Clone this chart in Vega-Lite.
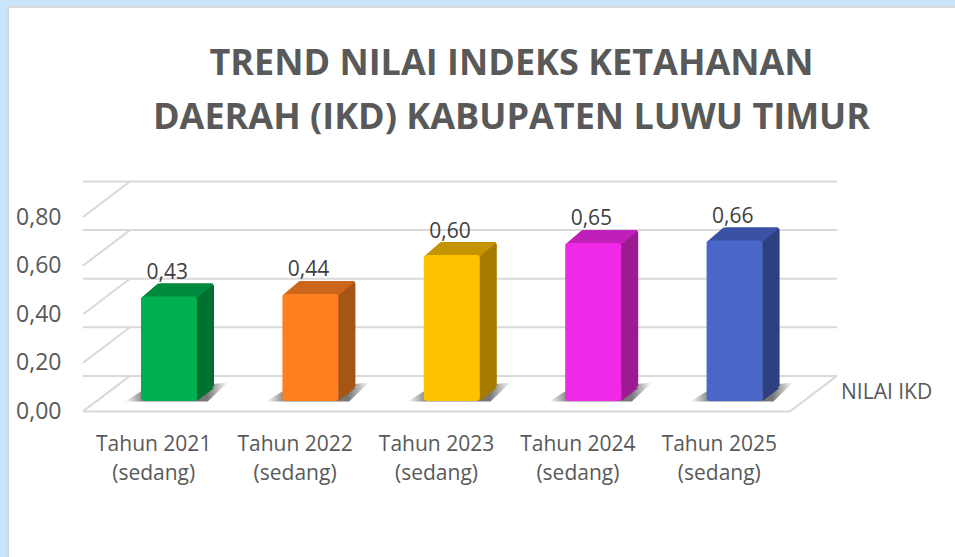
{
"$schema":"https://vega.github.io/schema/vega-lite/v6.json",
"width":707,"height":194.4,
"autosize":{"type":"none"},
"padding":{"left":83,"top":217,"right":165,"bottom":145.6},
"background":"#c9e5fb",
"config":{"view":{"stroke":null}},
"title":{"text":["TREND NILAI INDEKS KETAHANAN","DAERAH (IKD) KABUPATEN LUWU TIMUR"],"font":"Open Sans","fontSize":36,"fontWeight":"bold","color":"#595959","lineHeight":54,"anchor":"middle","dx":75,"offset":-131},
"datasets":{"ikd":[
{"tahun":"Tahun 2021 (sedang)","nilai":0.43,"label":"0,43"},
{"tahun":"Tahun 2022 (sedang)","nilai":0.44,"label":"0,44"},
{"tahun":"Tahun 2023 (sedang)","nilai":0.60,"label":"0,60"},
{"tahun":"Tahun 2024 (sedang)","nilai":0.65,"label":"0,65"},
{"tahun":"Tahun 2025 (sedang)","nilai":0.66,"label":"0,66"}],
"grid":[{"v":0},{"v":0.2},{"v":0.4},{"v":0.6},{"v":0.8}]},
"data":{"name":"ikd"},
"layer":[
{"data":{"values":[{"a":1}]},"mark":{"type":"rect","fill":"white","stroke":"#d8d8d8","strokeWidth":2,"clip":false},
 "encoding":{"x":{"value":-75},"x2":{"value":900},"y":{"value":-210},"y2":{"value":400}}},
{"data":{"name":"grid"},"mark":{"type":"rule","stroke":"#d9d9d9","strokeWidth":2,"xOffset":47,"yOffset":-35.5},
 "encoding":{"y":{"field":"v","type":"quantitative","scale":{"domain":[0,0.8],"nice":false},
  "axis":{"title":null,"domain":false,"ticks":false,"grid":false,"values":[0,0.2,0.4,0.6,0.8],"labelExpr":"replace(format(datum.value,'.2f'),'.',',')","labelFont":"Open Sans","labelFontSize":23,"labelColor":"#595959","labelPadding":22,"zindex":1}}}},
{"data":{"name":"grid"},"mark":{"type":"point","filled":false,"shape":"M0 0L47 -35.5","size":4,"stroke":"#d9d9d9","strokeWidth":2,"opacity":1},
 "encoding":{"x":{"value":0},"y":{"field":"v","type":"quantitative"}}},
{"data":{"values":[{"v":0}]},"mark":{"type":"point","filled":false,"shape":"M0 0L47 -35.5","size":4,"stroke":"#d9d9d9","strokeWidth":2,"opacity":1},
 "encoding":{"x":{"value":707},"y":{"field":"v","type":"quantitative"}}},
{"data":{"values":[{"v":0}]},"mark":{"type":"rule","stroke":"#d9d9d9","strokeWidth":2},
 "encoding":{"y":{"field":"v","type":"quantitative"}}},
{"mark":{"type":"point","filled":true,"opacity":1,"size":4,"strokeWidth":0,"shape":"M-29 -10L-13 -20L74 -29L54 -10Z",
  "fill":{"gradient":"linear","x1":0,"x2":1,"y1":0,"y2":0,"stops":[{"offset":0,"color":"#ffffff"},{"offset":0.2,"color":"#777777"},{"offset":0.8,"color":"#777777"},{"offset":1,"color":"#ffffff"}]}},
 "encoding":{"x":{"field":"tahun","type":"nominal","scale":{"type":"band","paddingInner":0,"paddingOuter":0}},"y":{"datum":0,"type":"quantitative"}}},
{"mark":{"type":"bar","size":56,"xOffset":32.3,"yOffset":-23.5,"y2Offset":-23.5,"cornerRadius":3},
 "encoding":{"x":{"field":"tahun","type":"nominal"},"y":{"field":"nilai","type":"quantitative","stack":null},"y2":{"datum":0},
  "color":{"field":"tahun","type":"nominal","legend":null,"scale":{"range":["#007030","#a55514","#a67c00","#9c1a92","#2f4080"]}}}},
{"mark":{"type":"point","filled":true,"opacity":1,"size":4,"strokeWidth":0,"shape":"M43.3 -10.5L60.3 -23.5L43.3 -23.5Z"},
 "encoding":{"x":{"field":"tahun","type":"nominal"},"y":{"datum":0,"type":"quantitative"},
  "color":{"field":"tahun","type":"nominal","legend":null,"scale":{"range":["#007030","#a55514","#a67c00","#9c1a92","#2f4080"]}}}},
{"mark":{"type":"point","filled":true,"opacity":1,"size":4,"strokeWidth":0,"shape":"M-12.7 -9L43.3 -9L59.3 -22.5Q60.3 -23.5 58 -23.5L5 -23.5Q4 -23.5 3 -22.5Z"},
 "encoding":{"x":{"field":"tahun","type":"nominal"},"y":{"field":"nilai","type":"quantitative"},
  "color":{"field":"tahun","type":"nominal","legend":null,"scale":{"range":["#008a3e","#cc661a","#c49500","#c020b8","#3b52a4"]}}}},
{"mark":{"type":"bar","size":56,"xOffset":15.3,"yOffset":-10.5,"y2Offset":-10.5,"cornerRadius":3},
 "encoding":{"x":{"field":"tahun","type":"nominal","axis":{"title":null,"domain":false,"ticks":false,"labelAngle":0,"labelAlign":"center","labelExpr":"[slice(datum.value,0,10),slice(datum.value,11)]","labelFont":"Open Sans","labelFontSize":21,"labelColor":"#595959","labelPadding":33,"labelLineHeight":29,"zindex":1}},
  "y":{"field":"nilai","type":"quantitative","stack":null},"y2":{"datum":0},
  "color":{"field":"tahun","type":"nominal","legend":null,"scale":{"range":["#00b050","#ff7f20","#ffc000","#f028e8","#4a66c8"]}}}},
{"mark":{"type":"text","font":"Open Sans","fontSize":21,"color":"#404040","dx":13.5,"dy":-34,"baseline":"middle"},
 "encoding":{"x":{"field":"tahun","type":"nominal"},"y":{"field":"nilai","type":"quantitative"},
  "text":{"field":"label"}}},
{"data":{"values":[{"seri":"NILAI IKD"}]},"mark":{"type":"text","font":"Open Sans","fontSize":21,"color":"#595959","align":"left","baseline":"middle"},
 "encoding":{"x":{"value":758},"y":{"value":176},"text":{"field":"seri"}}}
],
"resolve":{"scale":{"color":"independent"}}
}
